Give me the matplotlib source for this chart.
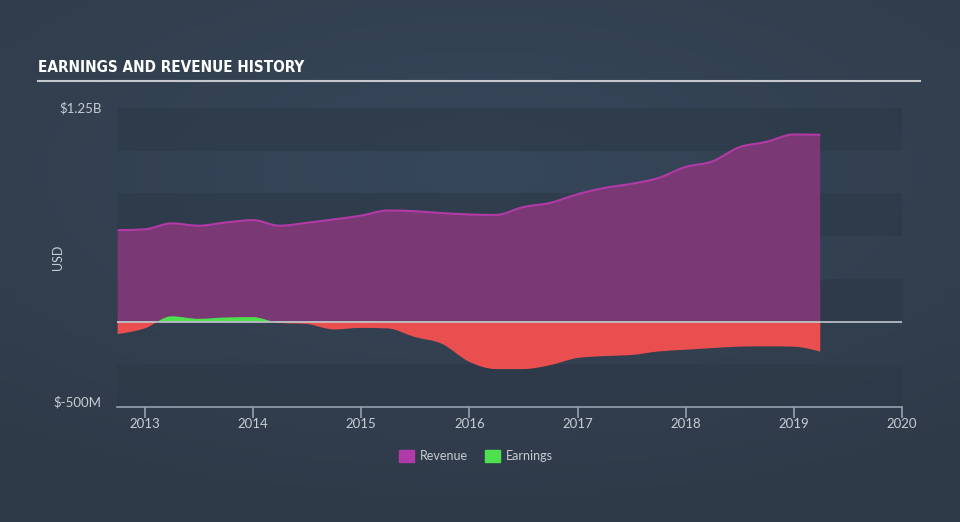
import numpy as np
import pandas as pd
import matplotlib
matplotlib.use("Agg")
import matplotlib.pyplot as plt
import matplotlib.dates as mdates
from matplotlib.path import Path
from matplotlib.patches import PathPatch, Rectangle
import datetime as dt

# quarterly figures, in billions USD
dates = ["2012-09-30", "2012-12-31", "2013-03-31", "2013-06-30", "2013-09-30",
         "2013-12-31", "2014-03-31", "2014-06-30", "2014-09-30", "2014-12-31",
         "2015-03-31", "2015-06-30", "2015-09-30", "2015-12-31", "2016-03-31",
         "2016-06-30", "2016-09-30", "2016-12-31", "2017-03-31", "2017-06-30",
         "2017-09-30", "2017-12-31", "2018-03-31", "2018-06-30", "2018-09-30",
         "2018-12-31", "2019-03-31"]
revenue = [0.535, 0.540, 0.575, 0.561, 0.580, 0.594, 0.561, 0.578, 0.598, 0.620,
           0.650, 0.646, 0.635, 0.627, 0.624, 0.670, 0.695, 0.745, 0.782, 0.806,
           0.840, 0.905, 0.937, 1.020, 1.052, 1.095, 1.093]
earnings = [-0.073, -0.040, 0.031, 0.016, 0.024, 0.026, -0.008, -0.014, -0.046, -0.037,
            -0.040, -0.090, -0.130, -0.235, -0.278, -0.278, -0.255, -0.213, -0.202, -0.196,
            -0.175, -0.165, -0.155, -0.147, -0.145, -0.147, -0.176]

BG = "#334050"
BAND = "#2c3846"
REV_FILL = "#7a3874"
REV_LINE = "#b23aa6"
RED = "#ea4f4f"
GREEN = "#4fe04f"
TXT = "#c8cdd3"
FONT = ["Lato", "DejaVu Sans"]


def monotone_path(x, y, base=0.0):
    # same idea as d3 curveMonotoneX, as bezier segments; returns (closed fill, top line)
    x = np.asarray(x, float)
    y = np.asarray(y, float)
    n = len(x)
    h = np.diff(x)
    s = np.diff(y) / h
    t = np.zeros(n)
    for i in range(1, n - 1):
        p = (s[i - 1] * h[i] + s[i] * h[i - 1]) / (h[i - 1] + h[i])
        t[i] = (np.sign(s[i - 1]) + np.sign(s[i])) * min(abs(s[i - 1]), abs(s[i]), 0.5 * abs(p))
    t[0] = (3 * s[0] - t[1]) / 2
    t[-1] = (3 * s[-1] - t[-2]) / 2
    verts = [(x[0], y[0])]
    codes = [Path.MOVETO]
    for i in range(n - 1):
        d = h[i] / 3
        verts += [(x[i] + d, y[i] + d * t[i]), (x[i + 1] - d, y[i + 1] - d * t[i + 1]), (x[i + 1], y[i + 1])]
        codes += [Path.CURVE4] * 3
    top = Path(verts, codes)
    fill = Path([(x[0], base)] + verts + [(x[-1], base), (x[0], base)],
                [Path.MOVETO, Path.LINETO] + codes[1:] + [Path.LINETO, Path.CLOSEPOLY])
    return fill, top


xs = mdates.date2num(pd.to_datetime(dates))

fig = plt.figure(figsize=(9.6, 5.22), dpi=100)
fig.patch.set_facecolor(BG)

# soft radial glow on the background
bg_ax = fig.add_axes([0, 0, 1, 1], zorder=-10)
gx, gy = np.meshgrid(np.linspace(-1, 1, 200), np.linspace(-1, 1, 110))
glow = np.sqrt((gx * 0.9) ** 2 + ((gy + 0.35) * 1.1) ** 2)
bg_ax.imshow(glow, cmap=matplotlib.colors.LinearSegmentedColormap.from_list("g", ["#36475a", "#2f3a48"]),
             aspect="auto", extent=[0, 1, 0, 1], vmin=0, vmax=1.5)
bg_ax.axis("off")

ax = fig.add_axes([117 / 960, 1 - 407 / 522, 785 / 960, 299 / 522])
ax.set_facecolor("none")
x0 = mdates.date2num(dt.datetime(2012, 9, 28))
x1 = mdates.date2num(dt.datetime(2020, 1, 1))
ax.set_xlim(x0, x1)
ax.set_ylim(-0.5, 1.25)

for lo in [-0.5, 0.0, 0.5, 1.0]:
    ax.axhspan(lo, lo + 0.25, color=BAND, alpha=0.6, lw=0, zorder=0)

rev_fill, rev_top = monotone_path(xs, revenue)
ax.add_patch(PathPatch(rev_fill, facecolor=REV_FILL, edgecolor="none", zorder=2))
ax.add_patch(PathPatch(rev_top, facecolor="none", edgecolor=REV_LINE, lw=1.5, zorder=3))

earn_fill, earn_top = monotone_path(xs, earnings)
pos = PathPatch(earn_fill, facecolor=GREEN, edgecolor="none", zorder=4)
ax.add_patch(pos)
pos.set_clip_path(Rectangle((x0, 0), x1 - x0, 2, transform=ax.transData))
neg = PathPatch(earn_fill, facecolor=RED, edgecolor="none", zorder=4)
ax.add_patch(neg)
neg.set_clip_path(Rectangle((x0, -2), x1 - x0, 2, transform=ax.transData))

ax.axhline(0, color="#c3c8ce", lw=1.2, zorder=5)

for side in ["top", "right", "left"]:
    ax.spines[side].set_visible(False)
ax.spines["bottom"].set_color("#93a1b1")
ax.spines["bottom"].set_linewidth(1.2)

years = [mdates.date2num(dt.datetime(y, 1, 1)) for y in range(2013, 2021)]
ax.set_xticks(years)
ax.set_xticklabels([str(y) for y in range(2013, 2021)])
ax.tick_params(axis="x", colors="#93a1b1", length=8, width=1.2, labelcolor=TXT, labelsize=9.5, pad=0)
ax.set_yticks([1.25, -0.5])
ax.set_yticklabels(["$1.25B", "$-500M"])
ax.tick_params(axis="y", length=0, labelcolor=TXT, labelsize=9.5, pad=11)
for lab in ax.get_xticklabels() + ax.get_yticklabels():
    lab.set_family(FONT)
ax.get_yticklabels()[0].set_va("center")
ax.get_yticklabels()[1].set_va("baseline")
ax.set_ylabel("USD", color=TXT, fontsize=9, family=FONT)
ax.yaxis.set_label_coords((64 - 117) / 785, 0.5)

# title and rule
fig.text(38 / 960, 1 - 68 / 522, "EARNINGS AND REVENUE HISTORY", color="white", fontsize=11,
         fontweight="bold", fontstretch="condensed", va="center", ha="left",
         family=["DejaVu Sans"])
fig.add_artist(plt.Line2D([38 / 960, 920 / 960], [1 - 81 / 522] * 2, color="#c5c9ce", lw=1.5))

# legend
for lx, col, name in [(399, "#b03aa8", "Revenue"), (485, GREEN, "Earnings")]:
    fig.add_artist(Rectangle((lx / 960, 1 - 462 / 522), 15 / 960, 12 / 522, color=col))
    fig.text((lx + 21) / 960, 1 - 456 / 522, name, color=TXT, fontsize=9, va="center", ha="left",
             family=FONT)

fig.savefig("out.png", dpi=100, facecolor=BG)
